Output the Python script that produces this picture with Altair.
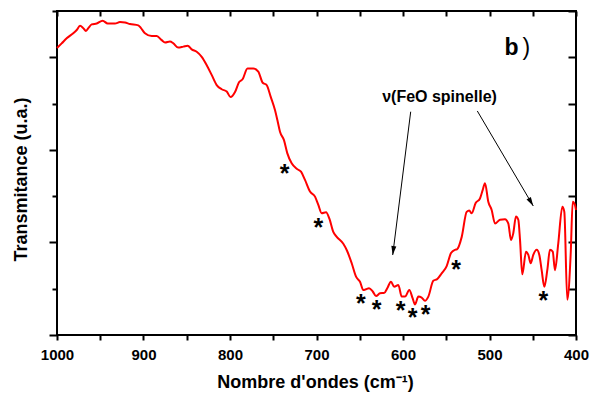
import altair as alt
import pandas as pd

# ---- spectrum (wavenumber in cm-1, transmittance in arbitrary units) ----
wavenumber = [1000.0, 994.6, 988.8, 981.2, 977.2, 973.4, 969.6, 966.5, 963.8, 959.9,
              954.1, 947.2, 941.4, 933.0, 927.2, 921.4, 915.6, 906.0, 902.9, 898.3,
              890.5, 884.7, 879.0, 875.1, 869.4, 865.5, 859.8, 854.0, 848.9, 844.3,
              838.5, 832.7, 826.9, 821.2, 815.4, 809.6, 803.8, 799.4, 794.2, 789.6,
              785.3, 779.8, 773.1, 767.3, 762.2, 757.6, 753.0, 748.0, 745.3, 742.2,
              737.6, 733.8, 728.7, 722.9, 717.9, 713.3, 707.5, 701.7, 697.9, 694.0,
              689.0, 685.2, 680.6, 676.6, 669.0, 664.7, 659.3, 654.3, 649.7, 645.9,
              642.8, 639.3, 635.0, 631.2, 626.6, 621.6, 618.2, 613.9, 610.1, 605.4,
              601.5, 597.7, 592.7, 588.8, 586.1, 582.3, 578.4, 574.6, 570.7, 565.0,
              560.3, 555.3, 549.5, 544.5, 539.9, 537.6, 532.1, 526.4, 523.4, 520.6,
              516.0, 511.0, 507.9, 505.2, 501.4, 497.5, 493.6, 487.9, 482.1, 478.3,
              475.1, 472.5, 469.4, 466.7, 464.7, 462.1, 457.8, 455.1, 452.4, 449.4,
              445.4, 442.4, 439.7, 436.6, 433.2, 430.1, 426.9, 424.3, 420.5, 415.8,
              413.5, 410.1, 406.1, 403.8, 401.2, 400.0]
transmittance = [62.0, 63.0, 64.1, 65.2, 65.9, 66.8, 66.3, 65.7, 66.3, 67.1,
                 67.3, 67.9, 67.3, 67.3, 67.6, 67.5, 67.2, 66.9, 66.3, 65.2,
                 64.6, 64.6, 63.7, 63.2, 63.4, 63.0, 62.1, 62.3, 62.5, 61.7,
                 61.2, 60.1, 58.3, 56.2, 54.0, 53.1, 52.6, 51.4, 52.5, 54.6,
                 55.3, 57.6, 57.6, 56.9, 54.5, 54.0, 51.5, 48.6, 46.5, 43.9,
                 42.1, 39.3, 37.1, 35.9, 35.3, 33.5, 31.0, 29.9, 28.1, 26.3,
                 26.5, 25.2, 22.3, 21.2, 19.7, 18.2, 15.5, 12.6, 11.5, 9.7,
                 9.9, 10.1, 9.4, 8.4, 9.0, 9.1, 10.1, 11.5, 10.4, 10.8,
                 8.3, 8.3, 9.7, 7.9, 6.6, 8.3, 8.1, 7.4, 8.3, 11.7,
                 12.1, 13.3, 14.9, 17.7, 18.4, 18.5, 21.2, 26.6, 26.9, 26.3,
                 28.5, 29.5, 31.3, 32.8, 28.8, 27.0, 24.1, 24.9, 25.0, 24.1,
                 20.5, 22.0, 25.6, 24.9, 20.5, 13.1, 18.0, 17.3, 15.5, 17.3,
                 18.4, 17.3, 14.0, 10.4, 14.0, 18.4, 18.0, 14.0, 19.8, 27.7,
                 26.6, 7.6, 17.7, 28.8, 28.1, 27.0]

# ---- asterisks marking bands ----
star_wn = [737.0, 697.9, 648.6, 630.4, 602.7, 588.8, 573.8, 538.7, 437.8]
star_t = [36.3, 24.6, 8.15, 6.85, 6.63, 5.19, 5.77, 15.66, 8.79]

# ---- annotation ----
annot_text = ["\u03bd(FeO spinelle)"]
annot_wn = [557.8]
annot_t = [51.4]

arrow_wn_start = [591.1, 514.1]
arrow_t_start = [48.24, 48.40]
arrow_wn_end = [611.9, 449.4]
arrow_t_end = [17.28, 27.87]
arrow_angle = [7.2, 329.5]

panel_letter = ["b", ")"]
panel_wn = [474.6, 457.3]
panel_t = [60.5, 60.5]
panel_weight = ["bold", "normal"]

x_ticks = [1000, 950, 900, 850, 800, 750, 700, 650, 600, 550, 500, 450, 400]
y_ticks = [0, 10, 20, 30, 40, 50, 60, 70]

FONT = "Liberation Sans"

spec_df = pd.DataFrame({"wn": wavenumber, "t": transmittance})
star_df = pd.DataFrame({"wn": star_wn, "t": star_t})
annot_df = pd.DataFrame({"wn": annot_wn, "t": annot_t, "label": annot_text})
arrow_df = pd.DataFrame({"wn": arrow_wn_start, "t": arrow_t_start,
                         "wn2": arrow_wn_end, "t2": arrow_t_end, "ang": arrow_angle})
panel_df = pd.DataFrame({"wn": panel_wn, "t": panel_t, "label": panel_letter, "w": panel_weight})

xs = alt.Scale(domain=[1000, 400], nice=False, zero=False)
ys = alt.Scale(domain=[0, 70], nice=False, zero=False)

bottom_axis = alt.Axis(
    values=x_ticks, format="d",
    labelExpr="datum.value % 100 === 0 ? datum.label : ''",
    labelFont=FONT, labelFontSize=15, labelFontWeight="bold", labelColor="black",
    labelFlush=False, labelOverlap=False, labelBound=False, labelPadding=7,
    tickSize=5, tickWidth=2, tickColor="black", domain=False, grid=False,
    title="Nombre d'ondes (cm\u207b\u00b9)", titleFont=FONT, titleFontSize=18,
    titleFontWeight="bold", titleColor="black", titleX=258, titleY=52,
    titleBaseline="alphabetic", titleAlign="center",
)
left_axis = alt.Axis(
    values=y_ticks, labels=False,
    tickSize={"condition": {"test": "datum.value % 20 === 0", "value": 8}, "value": 5},
    tickWidth=2, tickColor="black", domain=False, grid=False,
    title="Transmitance (u.a.)", titleFont=FONT, titleFontSize=18,
    titleFontWeight="bold", titleColor="black", titleAngle=-90,
    titleX=-31, titleY=168, titleBaseline="alphabetic", titleAlign="center",
)
top_axis = alt.Axis(
    orient="top", values=x_ticks, labels=False, offset=-5, tickSize=5, tickWidth=2,
    tickColor="black", domain=False, grid=False, title=None,
)
right_axis = alt.Axis(
    orient="right", values=y_ticks, labels=False, offset=-8, tickSize=8, tickWidth=2,
    tickColor="black", domain=False, grid=False, title=None,
)

line = alt.Chart(spec_df).mark_line(color="#ff0000", strokeWidth=2, interpolate="monotone").encode(
    x=alt.X("wn:Q", scale=xs, axis=bottom_axis),
    y=alt.Y("t:Q", scale=ys, axis=left_axis),
)

frame_ticks = alt.Chart(spec_df).mark_line(opacity=0).encode(
    x=alt.X("wn:Q", scale=xs, axis=top_axis),
    y=alt.Y("t:Q", scale=ys, axis=right_axis),
)

stars = alt.Chart(star_df).mark_text(
    text="*", font=FONT, fontSize=25, fontWeight="bold", color="black",
    baseline="middle", dy=7,
).encode(
    x=alt.X("wn:Q", scale=xs, axis=None),
    y=alt.Y("t:Q", scale=ys, axis=None),
)

annot = alt.Chart(annot_df).mark_text(
    font=FONT, fontSize=16, fontWeight="bold", color="black", baseline="middle", align="center",
).encode(
    x=alt.X("wn:Q", scale=xs, axis=None),
    y=alt.Y("t:Q", scale=ys, axis=None),
    text="label:N",
)

arrows = alt.Chart(arrow_df).mark_rule(color="black", strokeWidth=1).encode(
    x=alt.X("wn:Q", scale=xs, axis=None),
    y=alt.Y("t:Q", scale=ys, axis=None),
    x2="wn2:Q",
    y2="t2:Q",
)

heads = alt.Chart(arrow_df).mark_point(
    shape="M0,0L-0.28,-1L0.28,-1Z", filled=True, color="black", opacity=1, size=324,
).encode(
    x=alt.X("wn2:Q", scale=xs, axis=None),
    y=alt.Y("t2:Q", scale=ys, axis=None),
    angle=alt.Angle("ang:Q", scale=None),
)

panel_b = alt.Chart(panel_df[panel_df["w"] == "bold"]).mark_text(
    font=FONT, fontSize=23, fontWeight="bold", color="black", baseline="alphabetic", align="center",
).encode(
    x=alt.X("wn:Q", scale=xs, axis=None),
    y=alt.Y("t:Q", scale=ys, axis=None),
    text="label:N",
)
panel_p = alt.Chart(panel_df[panel_df["w"] == "normal"]).mark_text(
    font=FONT, fontSize=23, fontWeight="normal", color="black", baseline="alphabetic", align="center",
).encode(
    x=alt.X("wn:Q", scale=xs, axis=None),
    y=alt.Y("t:Q", scale=ys, axis=None),
    text="label:N",
)

chart = alt.layer(
    line, frame_ticks, stars, annot, arrows, heads, panel_b, panel_p
).resolve_axis(
    x="independent", y="independent"
).properties(
    width=519, height=324,
    padding={"left": 57, "top": 11, "right": 16, "bottom": 61},
    autosize=alt.AutoSizeParams(type="none"),
    background="white",
).configure_view(
    stroke="black", strokeWidth=2
)

chart.save("out.html", embed_options={"renderer": "svg", "actions": False})
